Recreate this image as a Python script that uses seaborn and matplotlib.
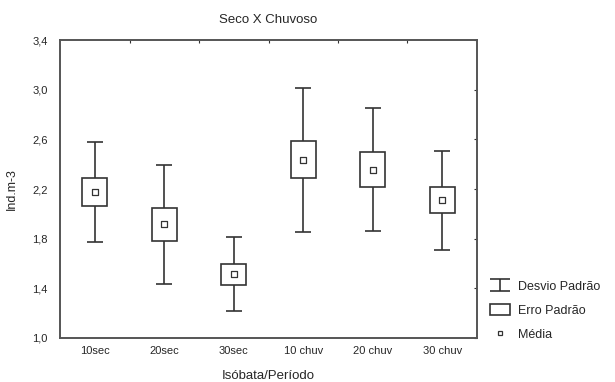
import matplotlib
matplotlib.use('Agg')
import matplotlib.pyplot as plt
import matplotlib.lines as mlines
import matplotlib.patches as mpatches
from matplotlib.path import Path
import numpy as np
import pandas as pd
import seaborn as sns

# values
grupos = ['10sec', '20sec', '30sec', '10 chuv', '20 chuv', '30 chuv']
media = [2.175, 1.915, 1.515, 2.435, 2.355, 2.11]
erro_padrao = [0.11, 0.13, 0.085, 0.15, 0.14, 0.105]
desvio_padrao = [0.40, 0.48, 0.30, 0.58, 0.495, 0.40]
yticks = [1.0, 1.4, 1.8, 2.2, 2.6, 3.0, 3.4]
ytick_labels = ['1,0', '1,4', '1,8', '2,2', '2,6', '3,0', '3,4']

sns.set_style('white')
plt.rcParams['font.family'] = ['Liberation Sans', 'DejaVu Sans']

df = pd.DataFrame({'grupo': grupos, 'media': media,
                   'se': erro_padrao, 'sd': desvio_padrao})
df['pos'] = np.arange(len(df))

fig = plt.figure(figsize=(6.15, 3.82), dpi=100)
ax = fig.add_axes([0.0976, 0.1152, 0.678, 0.780])

cor = '#333333'

# whiskers (desvio padrao)
ax.errorbar(df['pos'], df['media'], yerr=df['sd'], fmt='none',
            ecolor=cor, elinewidth=1.2, capsize=6, capthick=1.2, zorder=1)

# boxes (erro padrao)
ax.bar(df['pos'], 2 * df['se'], bottom=df['media'] - df['se'], width=0.36,
       facecolor='white', edgecolor=cor, linewidth=1.2, zorder=2)

# means
sns.scatterplot(data=df, x='pos', y='media', marker='s', s=13,
                facecolor='white', edgecolor=cor, linewidth=0.9,
                ax=ax, zorder=3, legend=False)

ax.set_xlim(-0.5, 5.5)
ax.set_ylim(1.0, 3.4)
ax.set_xticks(df['pos'])
ax.set_xticklabels(grupos, fontsize=8)
ax.set_yticks(yticks)
ax.set_yticklabels(ytick_labels, fontsize=8)
ax.tick_params(axis='x', length=0, pad=6)
ax.tick_params(axis='y', length=0, pad=9)

# small tick marks on top and right edges
ax2 = ax.secondary_xaxis('top')
ax2.set_xticks(np.arange(0.5, 5.5, 1.0))
ax2.set_xticklabels([])
ax2.tick_params(length=2, width=0.8, color=cor, direction='in')
ax3 = ax.secondary_yaxis('right')
ax3.set_yticks(yticks)
ax3.set_yticklabels([])
ax3.tick_params(length=2, width=0.8, color=cor, direction='in')
for a in (ax2, ax3):
    for sp in a.spines.values():
        sp.set_visible(False)

for sp in ax.spines.values():
    sp.set_color('#555555')
    sp.set_linewidth(1.4)

ax.set_title('Seco X Chuvoso', fontsize=9.5, pad=12)
ax.set_xlabel('Isóbata/Período', fontsize=9.5, labelpad=10)
ax.set_ylabel('Ind.m-3', fontsize=9, labelpad=10)

ibeam = Path([(-1, 0.6), (1, 0.6), (0, 0.6), (0, -0.6), (-1, -0.6), (1, -0.6)],
             [Path.MOVETO, Path.LINETO, Path.MOVETO, Path.LINETO, Path.MOVETO, Path.LINETO])
h_sd = mlines.Line2D([], [], color=cor, marker=ibeam, linestyle='none',
                     markersize=14, markeredgewidth=1.2, markerfacecolor='none')
h_se = mpatches.Rectangle((0, 0), 1, 1, facecolor='white', edgecolor=cor, linewidth=1.2)
h_m = mlines.Line2D([], [], color=cor, marker='s', linestyle='none',
                    markersize=3.4, markerfacecolor='white', markeredgewidth=0.9)
fig.legend([h_sd, h_se, h_m], ['Desvio Padrão', 'Erro Padrão', 'Média'],
           loc='upper left', bbox_to_anchor=(0.779, 0.296), frameon=False,
           fontsize=9, handlelength=1.6, handleheight=0.9, handletextpad=0.64,
           labelspacing=0.92)

fig.savefig('out.png', dpi=100)
